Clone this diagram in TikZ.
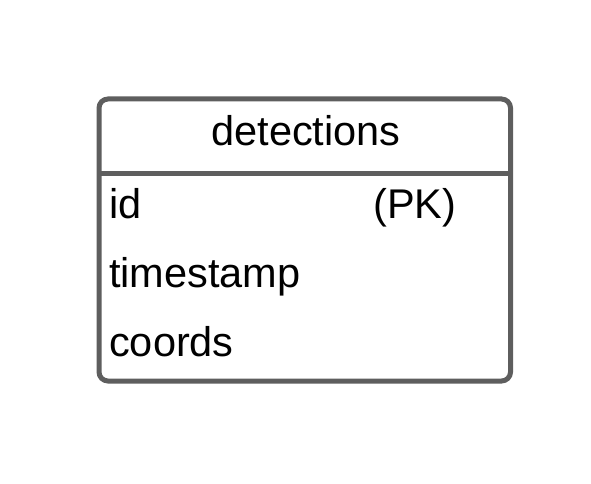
\documentclass[tikz,border=0pt]{standalone}
\usepackage{fontspec}
\setmainfont{Liberation Sans}
\usetikzlibrary{positioning, calc}
\tikzset{
    tableBox/.style={draw=black!63, line width=5pt, rounded corners=9pt, inner sep=0pt},
    fieldText/.style={anchor=base west, inner sep=0pt, font=\fontsize{41.5}{48}\selectfont},
    titleText/.style={anchor=base, inner sep=0pt, font=\fontsize{41.5}{48}\selectfont}
}

\begin{document}
\begin{tikzpicture}[x=1pt, y=-1pt]
    \useasboundingbox (0,0) rectangle (591,484);
    \node[tableBox, minimum width=411.5pt, minimum height=282pt] (Detections) at (304.75,240) {};
    \coordinate (SepL) at (99,173.5);  \coordinate (SepR) at (510.5,173.5);
    \draw[draw=black!63, line width=5pt] (SepL)--(SepR);
    \node[titleText] (Title) at (306,146) {detections};
    \node[fieldText] (FieldId) at (109,218) {id};
    \node[fieldText] (KeyId) at (373,218) {(PK)};
    \node[fieldText] (FieldTime) at (109,287) {timestamp};
    \node[fieldText] (FieldCoords) at (109,356) {coords};
\end{tikzpicture}
\end{document}
